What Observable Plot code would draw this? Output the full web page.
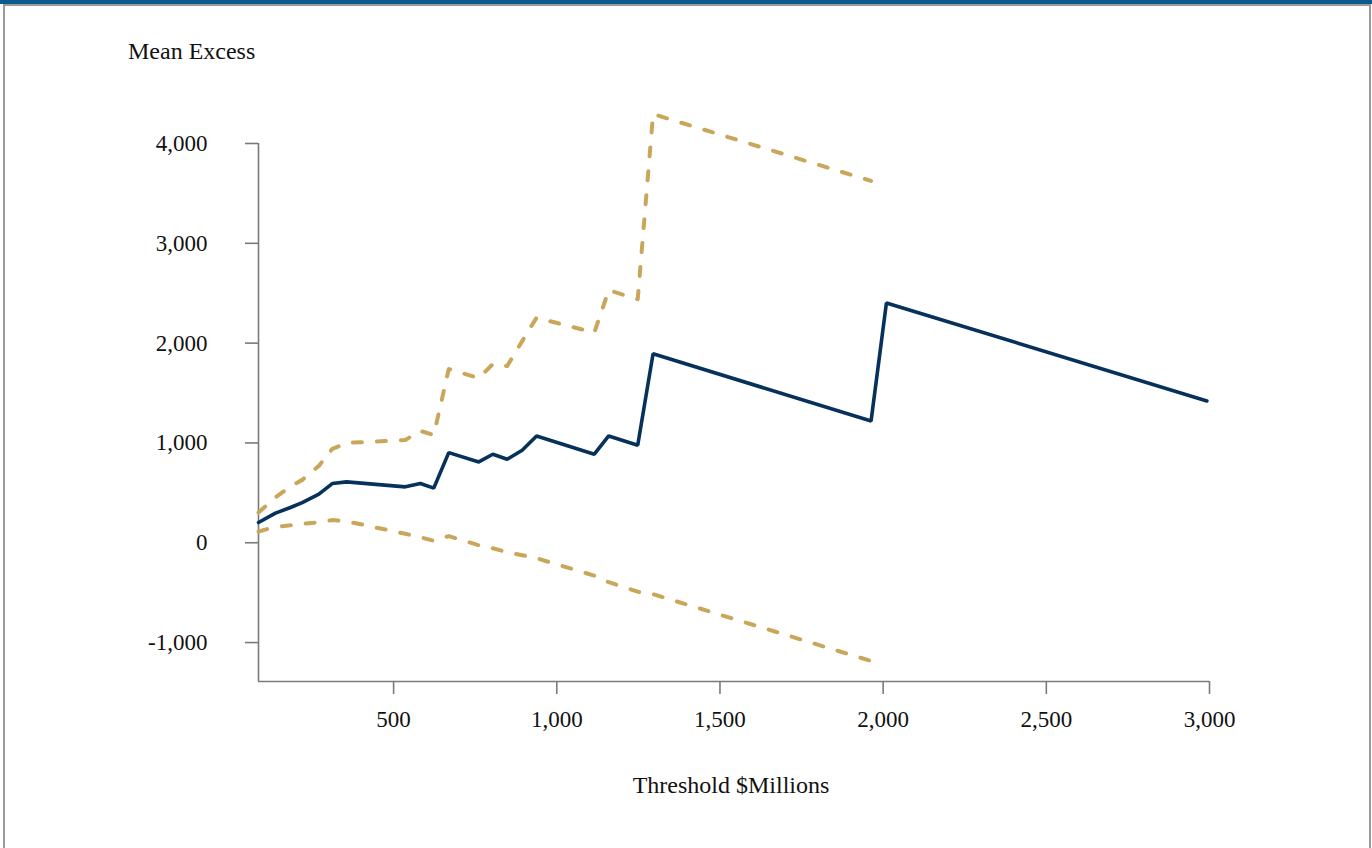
<!DOCTYPE html>
<html>
<head>
<meta charset="utf-8">
<script src="https://cdn.jsdelivr.net/npm/d3@7"></script>
<script src="https://cdn.jsdelivr.net/npm/@observablehq/plot@0.6"></script>
<style>
  html, body { margin: 0; padding: 0; background: #fff; width: 1372px; height: 848px; overflow: hidden; }
  #band { position: absolute; left: 0; top: 0; width: 1372px; height: 4px; background: #0d5a91; }
  #frame { position: absolute; left: 3px; top: 4px; width: 1364px; height: 900px;
           border: 2px solid #9b9b9b; border-bottom: none; box-sizing: content-box; }
  #chart { position: absolute; left: 0; top: 0; }
  .ttl { position: absolute; font-family: "Liberation Serif", serif; font-size: 24px; color: #111; white-space: nowrap; line-height: 1; }
  #ytitle { left: 128px; top: 39px; }
  #xtitle { left: 0; width: 1462px; text-align: center; top: 773px; }
</style>
</head>
<body>
<div id="band"></div>
<div id="frame"></div>
<div id="chart"></div>
<div class="ttl" id="ytitle">Mean Excess</div>
<div class="ttl" id="xtitle">Threshold $Millions</div>
<script>
// Threshold ($ millions) at each vertex of the mean excess plot
const thresholds = [86, 138, 184, 220, 271, 312, 356, 536, 582, 623, 669, 761, 804, 848, 894, 938, 1115, 1159, 1248, 1295, 1963, 2010, 2992];
// Mean excess (solid navy line)
const meanExcess = [203, 297, 353, 403, 487, 593, 610, 560, 593, 547, 903, 810, 887, 837, 927, 1070, 887, 1070, 977, 1893, 1220, 2403, 1420];
// Upper confidence band (dashed gold)
const upperBound = [303, 455, 565, 630, 770, 940, 1000, 1030, 1120, 1080, 1740, 1650, 1790, 1770, 2020, 2255, 2105, 2530, 2440, 4295, 3625, null, null];
// Lower confidence band (dashed gold)
const lowerBound = [113, 160, 175, 190, 205, 227, 215, 90, 55, 20, 67, -25, -55, -95, -125, -155, -330, -395, -490, -515, -1185, null, null];
// Axis ticks
const xTicks = [500, 1000, 1500, 2000, 2500, 3000];
const yTicks = [-1000, 0, 1000, 2000, 3000, 4000];

const rows = thresholds.map((t, i) => ({t, mean: meanExcess[i], upper: upperBound[i], lower: lowerBound[i]}));
const fmt = d => d.toLocaleString("en-US");
const navy = "#06315b";
const gold = "#c9a659";
const axisGray = "#7a7a7a";

const chart = Plot.plot({
  width: 1372,
  height: 740,
  marginLeft: 258,
  marginRight: 163,
  marginTop: 143,
  marginBottom: 59,
  x: {domain: [86, 3000]},
  y: {domain: [-1390, 4000]},
  style: {background: "none", fontFamily: "Liberation Serif, serif", fontSize: "23px", color: "#111", overflow: "visible"},
  marks: [
    Plot.ruleY([-1390], {stroke: axisGray, strokeWidth: 1.6}),
    Plot.ruleX([86], {y1: -1390, y2: 4000, stroke: axisGray, strokeWidth: 1.6}),
    Plot.axisX({ticks: xTicks, tickFormat: fmt, tickSize: 13, tickPadding: 16, stroke: axisGray, strokeWidth: 1.6, fill: "#111", label: null}),
    Plot.axisY({ticks: yTicks, tickFormat: fmt, tickSize: 13, tickPadding: 38, stroke: axisGray, strokeWidth: 1.6, fill: "#111", label: null}),
    Plot.line(rows, {x: "t", y: "upper", stroke: gold, strokeWidth: 4, strokeDasharray: "9,15", strokeLinecap: "round"}),
    Plot.line(rows, {x: "t", y: "lower", stroke: gold, strokeWidth: 4, strokeDasharray: "9,15", strokeLinecap: "round"}),
    Plot.line(rows, {x: "t", y: "mean", stroke: navy, strokeWidth: 3.6, strokeLinejoin: "miter", strokeLinecap: "round"})
  ]
});
document.getElementById("chart").appendChild(chart);
</script>
</body>
</html>
